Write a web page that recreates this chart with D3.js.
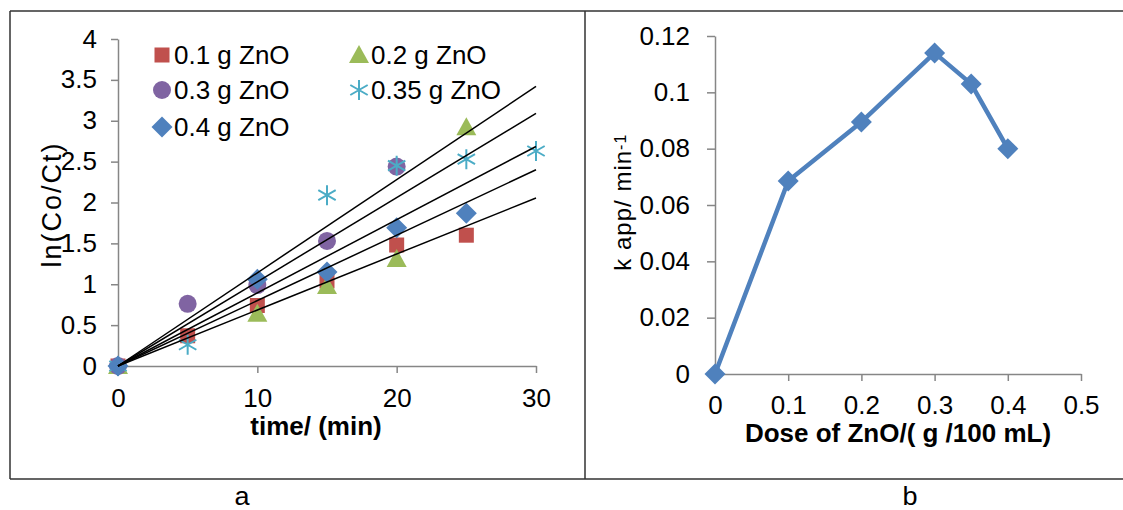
<!DOCTYPE html>
<html>
<head>
<meta charset="utf-8">
<script src="https://cdn.jsdelivr.net/npm/d3@7"></script>
<style>
  html, body { margin: 0; padding: 0; background: #fff; }
  svg { display: block; font-family: "Liberation Sans", Arial, sans-serif; }
</style>
</head>
<body>
<svg id="chart" width="1123" height="510"></svg>
<script>
// ---- panel a data: ln(Co/Ct) vs time ----
const seriesNames = ['0.1 g ZnO', '0.2 g ZnO', '0.3 g ZnO', '0.35 g ZnO', '0.4 g ZnO'];
const timeTicks = [0, 10, 20, 30];
const lnTicks = [0, 0.5, 1, 1.5, 2, 2.5, 3, 3.5, 4];

const pts01 = [[0, 0], [5, 0.37], [10, 0.74], [15, 1.04], [20, 1.48], [25, 1.6]];
const pts02 = [[0, 0], [10, 0.64], [15, 0.98], [20, 1.31], [25, 2.92]];
const pts03 = [[0, 0], [5, 0.76], [10, 0.99], [15, 1.53], [20, 2.44]];
const pts035 = [[0, 0], [5, 0.26], [15, 2.09], [20, 2.45], [25, 2.53], [30, 2.63]];
const pts04 = [[0, 0], [10, 1.06], [15, 1.15], [20, 1.69], [25, 1.87]];

// trendline slopes (through origin), one per series
const slopes = [0.0685, 0.0895, 0.114, 0.103, 0.08];

// ---- panel b data: k app vs dose ----
const doses = [0, 0.1, 0.2, 0.3, 0.35, 0.4];
const kApp = [0, 0.0685, 0.0895, 0.114, 0.103, 0.080];
const doseTicks = [0, 0.1, 0.2, 0.3, 0.4, 0.5];
const kTicks = [0, 0.02, 0.04, 0.06, 0.08, 0.1, 0.12];

const colors = ['#C0504D', '#9BBB59', '#8064A2', '#4BACC6', '#4F81BD'];
const shapes = ['square', 'triangle', 'circle', 'asterisk', 'diamond'];
const allPts = [pts01, pts02, pts03, pts035, pts04];

const FS = 25;   // main text size
const S = 1.04;  // text in the reference is a touch wider than Arial
const svg = d3.select('#chart');

function stretch(sel) {
    sel.each(function() {
        const t = d3.select(this);
        const x = +t.attr('x') || 0;
        t.attr('transform', `translate(${x * (1 - S)},0) scale(${S},1)`);
    });
}

function drawMarker(g, shape, color, cx, cy) {
    if (shape === 'square') {
        g.append('rect').attr('x', cx - 7.5).attr('y', cy - 7.5)
            .attr('width', 15).attr('height', 15).attr('fill', color);
    } else if (shape === 'circle') {
        g.append('circle').attr('cx', cx).attr('cy', cy).attr('r', 9).attr('fill', color);
    } else if (shape === 'triangle') {
        g.append('path').attr('d', `M${cx},${cy - 10}L${cx + 10},${cy + 8}L${cx - 10},${cy + 8}Z`)
            .attr('fill', color);
    } else if (shape === 'diamond') {
        g.append('path').attr('d', `M${cx},${cy - 10.5}L${cx + 10.5},${cy}L${cx},${cy + 10.5}L${cx - 10.5},${cy}Z`)
            .attr('fill', color);
    } else if (shape === 'asterisk') {
        const r = 10, dx = r * 0.87, dy = r * 0.5;
        g.append('path')
            .attr('d', `M${cx},${cy - r}V${cy + r}M${cx - dx},${cy - dy}L${cx + dx},${cy + dy}M${cx - dx},${cy + dy}L${cx + dx},${cy - dy}`)
            .attr('stroke', color).attr('stroke-width', 2).attr('fill', 'none');
    }
}

function styleAxis(g) {
    g.select('.domain').attr('stroke', '#868686').attr('stroke-width', 1.5);
    g.selectAll('.tick line').attr('stroke', '#868686').attr('stroke-width', 1.5);
    g.selectAll('.tick text').attr('font-size', FS).attr('fill', '#000')
        .attr('font-family', '"Liberation Sans", Arial, sans-serif');
    stretch(g.selectAll('.tick text'));
}

// ---- frame ----
const frame = svg.append('g').attr('stroke', '#333').attr('stroke-width', 1.5).attr('fill', 'none');
frame.append('path').attr('d', 'M10,11H1123M10,479H1123M10,11V479M585,11V479');

// ================= panel a =================
const xA = d3.scaleLinear().domain([0, 30]).range([118, 536]);
const yA = d3.scaleLinear().domain([0, 4]).range([366, 39]);

// y title (drawn first, tick labels sit over it as in the reference)
svg.append('text')
    .attr('transform', `translate(52,${(yA(2.75) + yA(1.2)) / 2}) rotate(-90)`)
    .attr('text-anchor', 'middle').attr('dy', '0.35em')
    .attr('font-size', 27).attr('letter-spacing', 2)
    .text('ln(Co/Ct)');

svg.append('g').attr('transform', `translate(${xA(0)},0)`)
    .call(d3.axisLeft(yA).tickValues(lnTicks).tickFormat(d => String(d))
        .tickSize(7).tickSizeOuter(0).tickPadding(14))
    .call(styleAxis);

svg.append('g').attr('transform', `translate(0,${yA(0)})`)
    .call(d3.axisBottom(xA).tickValues(timeTicks).tickFormat(d => String(d))
        .tickSize(7).tickSizeOuter(0).tickPadding(16))
    .call(styleAxis);

const titleA = svg.append('text').attr('x', 316).attr('y', 435)
    .attr('text-anchor', 'middle').attr('font-size', FS).attr('font-weight', 'bold')
    .text('time/ (min)');
stretch(titleA);

// markers
const markA = svg.append('g');
allPts.forEach((pts, i) => {
    pts.forEach(p => drawMarker(markA, shapes[i], colors[i], xA(p[0]), yA(p[1])));
});

// trendlines
svg.append('g').selectAll('line').data(slopes).join('line')
    .attr('x1', xA(0)).attr('y1', yA(0))
    .attr('x2', xA(30)).attr('y2', d => yA(d * 30))
    .attr('stroke', '#000').attr('stroke-width', 1.5);

// legend
const legendPos = [[162, 55], [359, 55], [162, 90], [359, 90], [162, 127]];
const leg = svg.append('g');
seriesNames.forEach((name, i) => {
    const [lx, ly] = legendPos[i];
    drawMarker(leg, shapes[i], colors[i], lx, ly);
    const t = leg.append('text').attr('x', lx + 12).attr('y', ly).attr('dy', '0.36em')
        .attr('font-size', FS).text(name);
    stretch(t);
});

const labA = svg.append('text').attr('x', 242).attr('y', 505).attr('text-anchor', 'middle')
    .attr('font-size', 26).text('a');
stretch(labA);

// ================= panel b =================
const xB = d3.scaleLinear().domain([0, 0.5]).range([715, 1081]);
const yB = d3.scaleLinear().domain([0, 0.12]).range([374, 36]);

const titleBY = svg.append('text')
    .attr('transform', `translate(623,${(yB(0.085) + yB(0.037)) / 2}) rotate(-90)`)
    .attr('text-anchor', 'middle').attr('dy', '0.35em')
    .attr('font-size', 24).attr('letter-spacing', 1);
titleBY.append('tspan').text('k app/ min');
titleBY.append('tspan').attr('font-size', 16).attr('dy', '-0.35em').text('-1');

svg.append('g').attr('transform', `translate(${xB(0)},0)`)
    .call(d3.axisLeft(yB).tickValues(kTicks).tickFormat(d => String(d))
        .tickSize(8).tickSizeOuter(0).tickPadding(17))
    .call(styleAxis);

svg.append('g').attr('transform', `translate(0,${yB(0)})`)
    .call(d3.axisBottom(xB).tickValues(doseTicks).tickFormat(d => String(d))
        .tickSize(7).tickSizeOuter(0).tickPadding(15))
    .call(styleAxis);

const titleBX = svg.append('text').attr('x', 898).attr('y', 442)
    .attr('text-anchor', 'middle').attr('font-size', FS).attr('font-weight', 'bold')
    .text('Dose of ZnO/( g /100 mL)');
stretch(titleBX);

const kData = doses.map((d, i) => [d, kApp[i]]);
svg.append('path').datum(kData)
    .attr('d', d3.line().x(d => xB(d[0])).y(d => yB(d[1])))
    .attr('fill', 'none').attr('stroke', '#4F81BD').attr('stroke-width', 4.5)
    .attr('stroke-linejoin', 'round');

const markB = svg.append('g');
kData.forEach(d => drawMarker(markB, 'diamond', '#4F81BD', xB(d[0]), yB(d[1])));

const labB = svg.append('text').attr('x', 910).attr('y', 505).attr('text-anchor', 'middle')
    .attr('font-size', 26).text('b');
stretch(labB);
</script>
</body>
</html>
